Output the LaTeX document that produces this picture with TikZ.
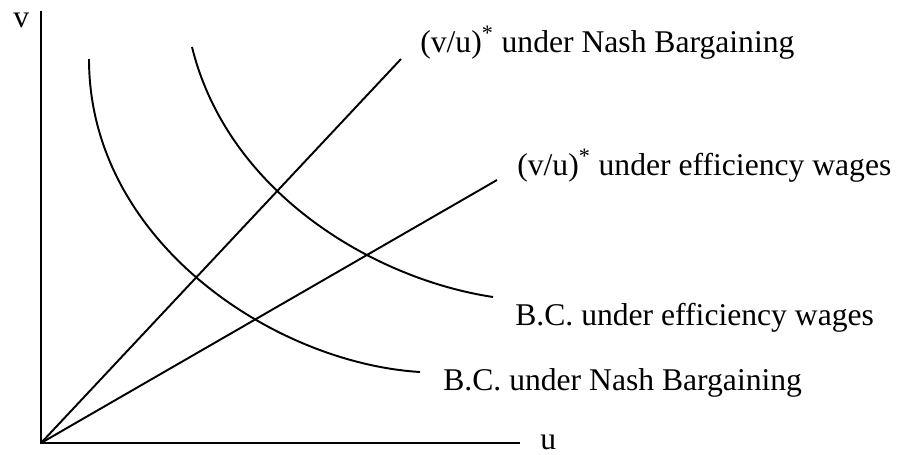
\documentclass[tikz,border=0pt]{standalone}
\usepackage{fontspec}
\setmainfont{Liberation Serif}

\begin{document}
\begin{tikzpicture}[
    x=0.02cm, y=-0.02cm,
    axis/.style={draw=black, line width=1.1pt},
    ray/.style={draw=black, line width=1.1pt},
    bc/.style={draw=black, line width=1.1pt},
    lbl/.style={font=\fontsize{18}{22}\selectfont, anchor=base west, inner sep=0pt}
  ]
  \useasboundingbox (0,0) rectangle (907,454);
  % axes
  \coordinate (O) at (41,443);
  \coordinate (vtop) at (41,11);
  \coordinate (uend) at (520,443);
  \draw[axis] (vtop) -- (O) -- (uend);
  \node[lbl] (vlab) at (13,27) {v};
  \node[lbl] (ulab) at (540,449) {u};

  % (v/u)* rays
  \coordinate (nbend) at (401,59);
  \coordinate (efend) at (497,180);
  \draw[ray] (O) -- (nbend);
  \draw[ray] (O) -- (efend);
  \node[lbl] (nbray) at (420,52) {(v/u)\textsuperscript{*} under Nash Bargaining};
  \node[lbl] (efray) at (517,175) {(v/u)\textsuperscript{*} under efficiency wages};

  % B.C. curves
  \coordinate (nbtop) at (89,59);
  \coordinate (nbend2) at (420,372);
  \coordinate (eftop) at (192,47);
  \coordinate (efend2) at (493,297);
  \draw[bc] (nbtop) .. controls (89,241) and (274,363) .. (nbend2);
  \draw[bc] (eftop) .. controls (228,193) and (374,279) .. (efend2);
  \node[lbl] (nbbc) at (443,390) {B.C. under Nash Bargaining};
  \node[lbl] (efbc) at (515,325) {B.C. under efficiency wages};
\end{tikzpicture}
\end{document}
